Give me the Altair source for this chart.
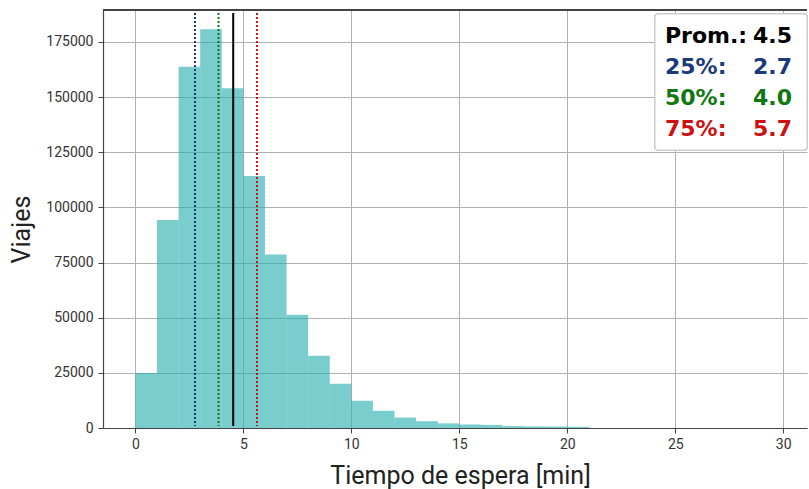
import altair as alt
import pandas as pd

# Histogram data (1-minute bins)
bin_starts = list(range(0, 21))
bin_ends = list(range(1, 22))
counts = [24900, 94300, 163800, 180800, 154000, 114200, 78700, 51300, 32800, 20100,
          12400, 7800, 4750, 3100, 2100, 1600, 1400, 850, 750, 650, 550]

# Summary statistics
stat_names = ["Prom.:", "25%:", "50%:", "75%:"]
stat_positions = [4.53, 2.76, 3.85, 5.63]
stat_labels = ["4.5", "2.7", "4.0", "5.7"]
stat_colors = ["#000000", "#1a3a7c", "#117711", "#cc1111"]

x_ticks = [0, 5, 10, 15, 20, 25, 30]
y_ticks = [0, 25000, 50000, 75000, 100000, 125000, 150000, 175000]

W, H = 704, 418

hist_df = pd.DataFrame({"start": bin_starts, "end": bin_ends, "count": counts})
stats_df = pd.DataFrame({"name": stat_names, "pos": stat_positions, "label": stat_labels})

xscale = alt.Scale(domain=[-1.5, 31.1], nice=False, zero=False)
yscale = alt.Scale(domain=[0, 189500], nice=False)

bars = alt.Chart(hist_df).mark_rect(color="#20acac", opacity=0.6).encode(
    x=alt.X("start:Q", scale=xscale,
            axis=alt.Axis(values=x_ticks, title="Tiempo de espera [min]",
                          titleX=357, titleY=55, titleBaseline="alphabetic",
                          titleAlign="center", labelPadding=4)),
    x2="end:Q",
    y=alt.Y("count:Q", scale=yscale,
            axis=alt.Axis(values=y_ticks, format="d", title="Viajes",
                          titleX=-74, titleY=219, titleAngle=270,
                          titleBaseline="alphabetic", titleAlign="center",
                          labelPadding=5)),
    y2=alt.datum(0),
)

rules = alt.Chart(stats_df).mark_rule(strokeWidth=2).encode(
    x=alt.X("pos:Q", scale=xscale),
    y=alt.value(3),
    y2=alt.value(H - 2),
    color=alt.Color("name:N", scale=alt.Scale(domain=stat_names, range=stat_colors), legend=None),
    strokeDash=alt.StrokeDash("name:N",
                              scale=alt.Scale(domain=stat_names, range=[[1, 0], [2, 2], [2, 2], [2, 2]]),
                              legend=None),
)

top_border = alt.Chart(hist_df).mark_rule(color="#444444", strokeWidth=1.2).encode(
    x=alt.value(0), x2=alt.value(W), y=alt.value(0)
)

box = alt.Chart(hist_df).mark_rect(fill="white", stroke="#cccccc", strokeWidth=1,
                                   cornerRadius=3).encode(
    x=alt.value(552), x2=alt.value(704), y=alt.value(4), y2=alt.value(140)
)

text_layers = []
for i, (nm, lab, col) in enumerate(zip(stat_names, stat_labels, stat_colors)):
    row = stats_df.iloc[[i]]
    t1 = alt.Chart(row).mark_text(align="left", baseline="alphabetic", font="DejaVu Sans",
                                  fontSize=22, fontWeight="bold", color=col).encode(
        x=alt.value(562), y=alt.value(33 + 31 * i), text="name:N")
    t2 = alt.Chart(row).mark_text(align="right", baseline="alphabetic", font="DejaVu Sans",
                                  fontSize=22, fontWeight="bold", color=col).encode(
        x=alt.value(689), y=alt.value(33 + 31 * i), text="label:N")
    text_layers += [t1, t2]

chart = alt.layer(bars, rules, top_border, box, *text_layers).properties(
    width=W, height=H,
    autosize=alt.AutoSizeParams(type="none"),
    padding={"left": 103, "top": 10, "right": 2, "bottom": 61},
).configure_view(stroke=None).configure_axis(
    labelFont="Roboto", labelFontSize=14, labelColor="#333333",
    tickColor="#444444", tickSize=5, tickWidth=1,
    domainColor="#444444", domainWidth=1.2,
    gridColor="#b0b0b0", gridWidth=1,
    titleFont="Roboto", titleFontSize=25, titleFontWeight="normal", titleColor="#222222",
)

chart.save("out.html", embed_options={"renderer": "svg", "actions": False})
